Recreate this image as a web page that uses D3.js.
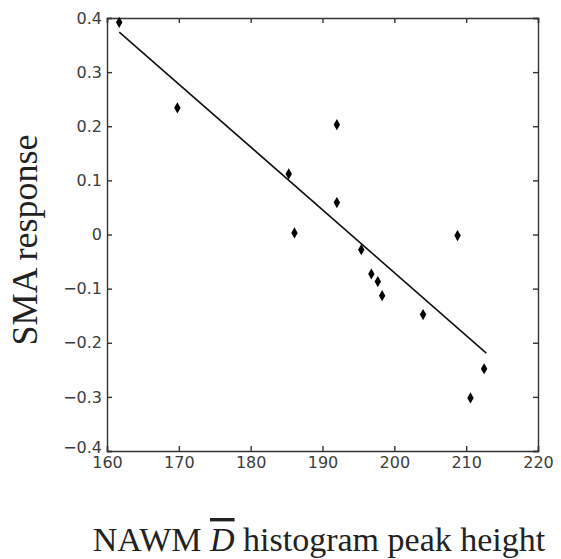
<!DOCTYPE html>
<html>
<head>
<meta charset="utf-8">
<script src="https://cdn.jsdelivr.net/npm/d3@7"></script>
<style>
  body { margin: 0; background: #fff; }
  .axis text { font-family: "DejaVu Sans", Verdana, sans-serif; font-size: 16px; fill: #3c3c3c; }
  .axis path, .axis line { stroke: #333; stroke-width: 1.4px; }
  .title { font-family: "Liberation Serif", "Times New Roman", serif; fill: #222; }
</style>
</head>
<body>
<div id="chart"></div>
<script>
// peak height vs response
const peakHeight = [161.7, 169.8, 185.3, 186.1, 192.0, 192.0, 195.4, 196.8, 197.7, 198.3, 204.0, 208.8, 210.6, 212.5];
const smaResp    = [0.392, 0.234, 0.112, 0.003, 0.203, 0.059, -0.028, -0.073, -0.087, -0.113, -0.148, -0.002, -0.302, -0.248];
// fitted line endpoints
const fitX = [161.7, 212.8];
const fitY = [0.374, -0.219];
const xTicks = [160, 170, 180, 190, 200, 210, 220];
const yTicks = [-0.4, -0.3, -0.2, -0.1, 0, 0.1, 0.2, 0.3, 0.4];

const width = 561, height = 559;
const margin = {top: 18, right: 23, bottom: 108, left: 107};
const w = width - margin.left - margin.right;
const h = height - margin.top - margin.bottom;

const svg = d3.select('#chart').append('svg')
    .attr('width', width)
    .attr('height', height);
const chart = svg.append('g')
    .attr('transform', `translate(${margin.left}, ${margin.top})`);

const xScale = d3.scaleLinear().domain([160, 220]).range([0, w]);
const yScale = d3.scaleLinear().domain([-0.4, 0.4]).range([h, 0]);

const fmtY = (d) => d === 0 ? '0' : d3.format('.1f')(d).replace('-', '\u2212');

// bottom / left with labels, ticks pointing in
chart.append('g')
    .attr('class', 'axis x-axis')
    .attr('transform', `translate(0, ${h})`)
    .call(d3.axisBottom(xScale).tickValues(xTicks).tickSize(-5).tickPadding(6).tickFormat(d3.format('d')));
chart.append('g')
    .attr('class', 'axis y-axis')
    .call(d3.axisLeft(yScale).tickValues(yTicks).tickSize(-5).tickPadding(5).tickFormat(fmtY));
// top / right box sides
chart.append('g')
    .attr('class', 'axis')
    .call(d3.axisTop(xScale).tickValues(xTicks).tickSize(-5).tickFormat(''));
chart.append('g')
    .attr('class', 'axis')
    .attr('transform', `translate(${w}, 0)`)
    .call(d3.axisRight(yScale).tickValues(yTicks).tickSize(-5).tickFormat(''));

// -0.4 sits in the corner next to 160, lift it a touch
chart.selectAll('.y-axis .tick text')
    .filter((d) => d === -0.4)
    .attr('dy', '0.12em');

// fit line
const line = d3.line()
    .x((d) => xScale(d[0]))
    .y((d) => yScale(d[1]));
chart.append('path')
    .datum(fitX.map((x, i) => [x, fitY[i]]))
    .attr('d', line)
    .attr('fill', 'none')
    .attr('stroke', '#111')
    .attr('stroke-width', 1.6);

// points
chart.selectAll('.pt')
    .data(peakHeight.map((x, i) => ({x: x, y: smaResp[i]})))
    .enter().append('path')
    .attr('class', 'pt')
    .attr('d', d3.symbol().type(d3.symbolDiamond).size(36))
    .attr('transform', (d) => `translate(${xScale(d.x)}, ${yScale(d.y)})`)
    .attr('fill', '#000');

// axis titles
const xt = svg.append('text')
    .attr('class', 'title')
    .attr('font-size', '34px')
    .attr('x', 319)
    .attr('y', 551)
    .attr('text-anchor', 'middle');
xt.append('tspan').text('NAWM ');
xt.append('tspan').attr('font-style', 'italic').style('text-decoration', 'overline').text('D');
xt.append('tspan').text(' histogram peak height');

svg.append('text')
    .attr('class', 'title')
    .attr('font-size', '36px')
    .attr('transform', `translate(37, 240) rotate(-90)`)
    .attr('text-anchor', 'middle')
    .text('SMA response');
</script>
</body>
</html>
